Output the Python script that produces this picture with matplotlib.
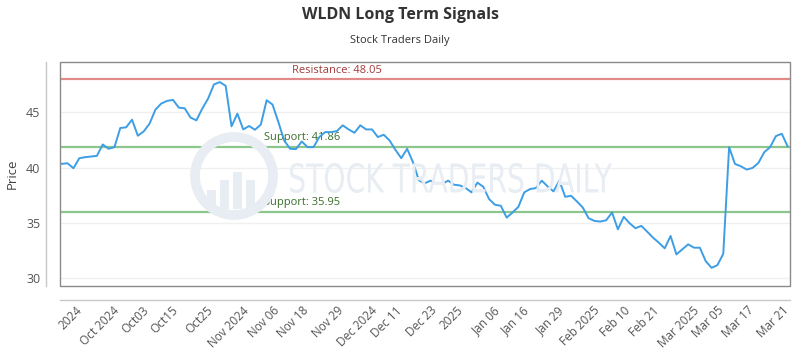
import matplotlib
matplotlib.use("Agg")
import matplotlib.pyplot as plt
from matplotlib.font_manager import FontProperties
from matplotlib.patches import Circle, PathPatch, Rectangle
from matplotlib.textpath import TextPath
from matplotlib.transforms import Affine2D, blended_transform_factory

# daily closes, one per trading day
prices = [
    40.34, 40.39, 39.94, 40.85, 40.94, 41.00, 41.06, 42.09, 41.70, 41.85,
    43.58, 43.64, 44.33, 42.88, 43.27, 43.97, 45.24, 45.79, 46.03, 46.12,
    45.42, 45.36, 44.52, 44.27, 45.33, 46.24, 47.52, 47.73, 47.39, 43.73,
    44.88, 43.45, 43.76, 43.42, 43.88, 46.09, 45.70, 44.12, 42.45, 41.70,
    41.67, 42.36, 41.85, 41.85, 42.76, 43.21, 43.21, 43.30, 43.82, 43.45,
    43.15, 43.82, 43.45, 43.45, 42.76, 42.97, 42.45, 41.60, 40.85, 41.70,
    40.48, 38.85, 38.58, 38.82, 38.52, 38.52, 38.82, 38.45, 38.39, 38.15,
    37.76, 38.64, 38.27, 37.15, 36.64, 36.55, 35.48, 35.94, 36.45, 37.76,
    38.06, 38.15, 38.82, 38.30, 37.85, 38.82, 37.36, 37.45, 36.94, 36.39,
    35.42, 35.18, 35.12, 35.24, 35.94, 34.42, 35.55, 34.97, 34.52, 34.73,
    34.21, 33.67, 33.21, 32.70, 33.82, 32.15, 32.61, 33.06, 32.76, 32.76,
    31.55, 30.94, 31.18, 32.21, 41.85, 40.33, 40.12, 39.82, 39.97, 40.42,
    41.39, 41.85, 42.85, 43.06, 41.91,
]

resistance = 48.05
supports = [41.86, 35.95]

tick_idx = [4, 9, 15, 20, 26, 31, 37, 42, 48, 53, 58, 64, 69, 75, 80, 86,
            91, 97, 102, 108, 113, 118, 124]
tick_labels = ["2024", "Oct 2024", "Oct03", "Oct15", "Oct25", "Nov 2024",
               "Nov 06", "Nov 18", "Nov 29", "Dec 2024", "Dec 11", "Dec 23",
               "2025", "Jan 06", "Jan 16", "Jan 29", "Feb 2025", "Feb 10",
               "Feb 21", "Mar 2025", "Mar 05", "Mar 17", "Mar 21"]
y_ticks = [30, 35, 40, 45]

plt.rcParams["font.family"] = ["Open Sans", "DejaVu Sans"]

fig = plt.figure(figsize=(8, 3.5), dpi=100)
ax = fig.add_axes([0.075, 0.183, 0.9125, 0.64])

# faint watermark behind the data (pixel coords, origin bottom-left)
mark = "#e7edf3"
fig.patches.append(Circle((234, 174), 39, transform=None, fill=False,
                          edgecolor=mark, linewidth=7, zorder=0))
for bx, top in [(207, 160), (220, 170), (233, 178), (246, 170)]:
    fig.patches.append(Rectangle((bx, 141), 9, top - 141, transform=None,
                                 facecolor=mark, edgecolor="none", zorder=0))
wm = TextPath((0, 0), "STOCK TRADERS DAILY", size=40,
              prop=FontProperties(family="DejaVu Sans"))
ext = wm.get_extents()
wm_tf = (Affine2D().translate(-ext.x0, -ext.y0)
         .scale(322 / ext.width, 30 / ext.height).translate(290, 157))
fig.patches.append(PathPatch(wm_tf.transform_path(wm), transform=None,
                             facecolor=mark, edgecolor="none", zorder=0))

x = list(range(len(prices)))
ax.set_facecolor("none")
ax.plot(x, prices, color="#3d9ee5", linewidth=1.4, zorder=4)

ax.axhline(resistance, color="#e08a8a", linewidth=1.6, zorder=3)
for s in supports:
    ax.axhline(s, color="#8cc68c", linewidth=1.6, zorder=3)

trans = blended_transform_factory(ax.transAxes, ax.transData)
ax.annotate(f"Resistance: {resistance:.2f}", xy=(0.379, resistance),
            xycoords=trans, xytext=(0, 2), textcoords="offset points",
            ha="center", va="bottom", fontsize=8, color="#a33a3a")
for s in supports:
    ax.annotate(f"Support: {s:.2f}", xy=(0.279, s), xycoords=trans,
                xytext=(0, 3), textcoords="offset points",
                ha="left", va="bottom", fontsize=8, color="#3b6e2b")

ax.set_xlim(-0.3, 124.4)
ax.set_ylim(29.3, 49.55)
ax.set_yticks(y_ticks)
ax.grid(axis="y", color="#f0f0f0", linewidth=1)
ax.set_axisbelow(True)
ax.tick_params(axis="y", labelsize=9, labelcolor="#555555", length=0, pad=4)
ax.tick_params(axis="x", length=0, pad=3, labelsize=8.5,
               labelcolor="#555555", labelrotation=45)
# labels sit a little left of their day, as in the source chart
ax.set_xticks([i - 2.5 for i in tick_idx])
ax.set_xticklabels(tick_labels)
for lab in ax.get_xticklabels():
    lab.set_ha("right")
    lab.set_va("center")
    lab.set_rotation_mode("anchor")
ax.set_ylabel("Price", fontsize=9.5, color="#444444", labelpad=5)

for side in ("top", "right"):
    ax.spines[side].set_visible(False)
for side in ("left", "bottom"):
    ax.spines[side].set_position(("outward", 10))
    ax.spines[side].set_color("#c8c8c8")
    ax.spines[side].set_linewidth(1)

# plot border box
ax.add_patch(Rectangle((0, 0), 1, 1, transform=ax.transAxes, fill=False,
                       edgecolor="#8a8a8a", linewidth=1, zorder=5,
                       clip_on=False))

fig.text(0.5, 1 - 15 / 350, "WLDN Long Term Signals", ha="center",
         va="center", fontsize=11.5, fontweight="bold", color="#333333")
fig.text(0.5, 1 - 40 / 350, "Stock Traders Daily", ha="center",
         va="center", fontsize=8, color="#333333")

fig.savefig("out.png", dpi=100)
